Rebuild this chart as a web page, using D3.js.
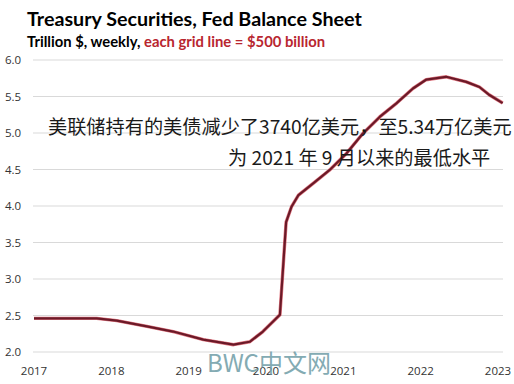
<!DOCTYPE html>
<html>
<head>
<meta charset="utf-8">
<script src="https://cdn.jsdelivr.net/npm/d3@7"></script>
<style>
  body { margin: 0; background: #fff; }
  svg { display: block; }
</style>
</head>
<body>
<svg id="chart" width="514" height="384"></svg>
<script>
// weekly treasury holdings (year, trillion $)
const dates = [2017.0, 2017.4, 2017.81, 2018.07, 2018.46, 2018.8, 2019.19, 2019.58, 2019.79, 2019.96, 2020.18,
  2020.26, 2020.33, 2020.42, 2020.61, 2020.82, 2021.04, 2021.25, 2021.47, 2021.69, 2021.9, 2022.07,
  2022.33, 2022.59, 2022.76, 2022.89, 2023.06];
const holdings = [2.46, 2.46, 2.46, 2.43, 2.35, 2.28, 2.17, 2.10, 2.14, 2.28, 2.51,
  3.78, 3.99, 4.15, 4.31, 4.49, 4.72, 4.99, 5.22, 5.41, 5.61, 5.73,
  5.77, 5.70, 5.63, 5.52, 5.41];
const yTicks = [2.0, 2.5, 3.0, 3.5, 4.0, 4.5, 5.0, 5.5, 6.0];
const xTicks = [2017, 2018, 2019, 2020, 2021, 2022, 2023];
const notes = ['美联储持有的美债减少了3740亿美元，至5.34万亿美元', '为 2021 年 9 月以来的最低水平'];

const svg = d3.select('#chart');

const x = d3.scaleLinear().domain([2017, 2023]).range([34, 498]);
const y = d3.scaleLinear().domain([2, 6]).range([352, 60]);

// grid lines
svg.append('g')
  .selectAll('line')
  .data(yTicks)
  .join('line')
  .attr('x1', 33).attr('x2', 503)
  .attr('y1', d => y(d)).attr('y2', d => y(d))
  .attr('stroke', '#d9d9d9')
  .attr('stroke-width', 1);

// y labels
svg.append('g')
  .selectAll('text')
  .data(yTicks)
  .join('text')
  .attr('x', 5)
  .attr('y', d => y(d) + 4)
  .attr('font-family', 'Open Sans, sans-serif')
  .attr('font-size', 11.5)
  .attr('fill', '#333')
  .text(d => d.toFixed(1));

// x labels
svg.append('g')
  .selectAll('text')
  .data(xTicks)
  .join('text')
  .attr('x', d => x(d))
  .attr('y', 375)
  .attr('text-anchor', 'middle')
  .attr('font-family', 'Open Sans, sans-serif')
  .attr('font-size', 11.5)
  .attr('fill', '#333')
  .text(d => d);

// watermark
svg.append('text')
  .attr('x', 207).attr('y', 372)
  .attr('font-family', 'Noto Sans CJK SC, sans-serif')
  .attr('font-size', 24)
  .attr('fill', '#76a2ab')
  .attr('opacity', 0.9)
  .text('BWC中文网');

const line = d3.line()
  .x((d, i) => x(dates[i]))
  .y(d => y(d));

// red halo then maroon core
svg.append('path')
  .datum(holdings)
  .attr('d', line)
  .attr('fill', 'none')
  .attr('stroke', '#d0303f')
  .attr('stroke-width', 3.4)
  .attr('stroke-linejoin', 'round')
  .attr('opacity', 0.65);

svg.append('path')
  .datum(holdings)
  .attr('d', line)
  .attr('fill', 'none')
  .attr('stroke', '#6b1a28')
  .attr('stroke-width', 2.2)
  .attr('stroke-linejoin', 'round');

// annotation
svg.append('text')
  .attr('x', 48).attr('y', 134)
  .attr('font-family', 'Noto Sans CJK SC, sans-serif')
  .attr('font-size', 19.2)
  .attr('fill', '#1a1a1a')
  .text(notes[0]);

svg.append('text')
  .attr('x', 228).attr('y', 165)
  .attr('font-family', 'Noto Sans CJK SC, sans-serif')
  .attr('font-size', 19.2)
  .attr('fill', '#1a1a1a')
  .text(notes[1]);

// title
svg.append('text')
  .attr('x', 27).attr('y', 26)
  .attr('font-family', 'Lato, sans-serif')
  .attr('font-weight', 'bold')
  .attr('font-size', 19.7)
  .attr('fill', '#000')
  .text('Treasury  Securities,  Fed Balance  Sheet');

const sub = svg.append('text')
  .attr('x', 27).attr('y', 47)
  .attr('font-family', 'Lato, sans-serif')
  .attr('font-weight', 'bold')
  .attr('font-size', 14.8)
  .attr('fill', '#000');
sub.append('tspan').text('Trillion $, weekly, ');
sub.append('tspan').attr('fill', '#b8262f').text('each grid line = $500 billion');
</script>
</body>
</html>
